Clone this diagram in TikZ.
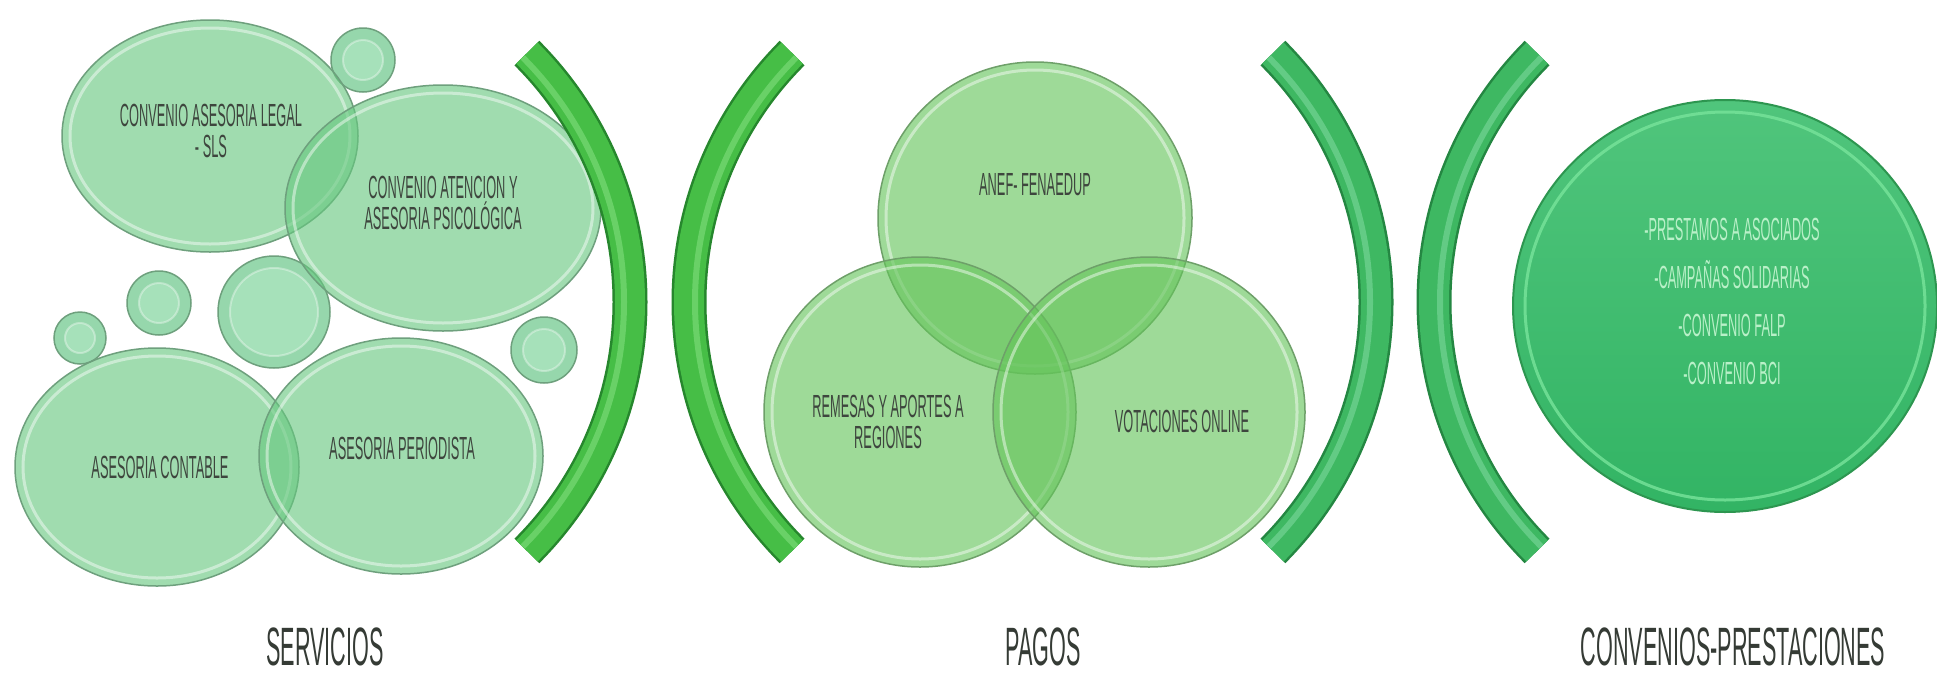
\documentclass[tikz,border=0pt]{standalone}
\usepackage{fontspec}
\newfontfamily\cond{Liberation Sans}[FakeStretch=0.4]
\definecolor{mint}{RGB}{102,200,127}
\definecolor{mintedge}{RGB}{110,160,125}
\definecolor{venn}{RGB}{100,196,90}
\definecolor{vennedge}{RGB}{110,160,105}
\definecolor{bub}{RGB}{150,215,172}
\definecolor{bubl}{RGB}{178,232,196}
\definecolor{arcA}{RGB}{70,190,70}
\definecolor{arcAd}{RGB}{38,135,45}
\definecolor{arcAl}{RGB}{120,218,118}
\definecolor{arcB}{RGB}{62,184,98}
\definecolor{arcBd}{RGB}{36,135,66}
\definecolor{arcBl}{RGB}{115,212,148}
\definecolor{bigtop}{RGB}{80,197,124}
\definecolor{bigbot}{RGB}{50,180,100}
\definecolor{bigedge}{RGB}{45,150,80}
\definecolor{bigrim}{RGB}{120,228,155}
\definecolor{bigtext}{RGB}{185,240,200}
\definecolor{txt}{RGB}{62,70,62}
\newcommand\glassell[7]{% x, y, rx, ry, inner rx, inner ry, colour
  \fill[#7, fill opacity=0.62] (#1,#2) ellipse [x radius=#3, y radius=#4];
  \draw[white, opacity=0.45, line width=3] (#1,#2) ellipse [x radius=#5, y radius=#6];
  \draw[#7edge, line width=1.5] (#1,#2) ellipse [x radius=#3, y radius=#4];
}
\newcommand\smallbub[4]{% x, y, r, inner r
  \fill[bub] (#1,#2) circle [radius=#3];
  \fill[bubl, opacity=0.6] (#1,#2) circle [radius=#4];
  \draw[white, opacity=0.35, line width=2] (#1,#2) circle [radius=#4];
  \draw[mintedge, line width=1.5] (#1,#2) circle [radius=#3];
}
\newcommand\greenarc[6]{% cx, cy, start, end, colour, stripe radius
  \draw[#5d, line width=35] (#1,#2) ++(#3:352) arc [start angle=#3, end angle=#4, radius=352];
  \draw[#5, line width=30] (#1,#2) ++(#3:352) arc [start angle=#3, end angle=#4, radius=352];
  \draw[#5l, line width=6, opacity=0.7] (#1,#2) ++(#3:#6) arc [start angle=#3, end angle=#4, radius=#6];
}
\begin{document}
\begin{tikzpicture}[x=1pt,y=-1pt,
  lbl/.style={font=\cond\fontsize{32}{31}\selectfont, text=txt, align=center, inner sep=0pt},
  biglbl/.style={font=\cond\fontsize{32}{48}\selectfont, text=bigtext, align=center, inner sep=0pt},
  cat/.style={font=\cond\fontsize{54}{54}\selectfont, text=txt!85!black, inner sep=0pt}]
\fill[white] (0,0) rectangle (1937,675);
\useasboundingbox (0,0) rectangle (1937,675);

% small bubbles
\smallbub{363}{60}{32}{20}
\smallbub{274}{312}{56}{44}
\smallbub{159}{303}{32}{20}
\smallbub{80}{338}{26}{15}
\smallbub{544}{350}{33}{21}

% servicios ellipses
\glassell{210}{136}{148}{116}{140}{108}{mint}
\glassell{443}{208}{158}{123}{150}{115}{mint}
\glassell{157}{467}{142}{119}{134}{111}{mint}
\glassell{401}{456}{142}{118}{134}{110}{mint}

% brackets
\greenarc{278}{302}{-45}{45}{arcA}{346}
\greenarc{1041}{302}{225}{135}{arcA}{346}
\greenarc{1024}{302}{-45}{45}{arcB}{346}
\greenarc{1786}{302}{225}{135}{arcB}{346}

% venn
\glassell{1035}{218}{157}{156}{149}{148}{venn}
\glassell{920}{412}{156}{155}{148}{147}{venn}
\glassell{1149}{412}{156}{155}{148}{147}{venn}

% big circle
\shade[top color=bigtop, bottom color=bigbot] (1725,306) ellipse [x radius=212, y radius=206];
\draw[bigrim, line width=3, opacity=0.8] (1725,306) ellipse [x radius=200, y radius=194];
\draw[bigedge, line width=2] (1725,306) ellipse [x radius=212, y radius=206];

% texts
\node[lbl] (t1) at (211,131) {CONVENIO ASESORIA LEGAL\\- SLS};
\node[lbl] (t2) at (443,203) {CONVENIO ATENCION Y\\ASESORIA PSICOLÓGICA};
\node[lbl] (t3) at (160,467) {ASESORIA CONTABLE};
\node[lbl] (t4) at (402,448) {ASESORIA PERIODISTA};
\node[lbl] (t5) at (1035,185) {ANEF- FENAEDUP};
\node[lbl] (t6) at (888,422) {REMESAS Y APORTES A\\REGIONES};
\node[lbl] (t7) at (1182,421) {VOTACIONES ONLINE};
\node[biglbl] (t8) at (1732,301) {-PRESTAMOS A ASOCIADOS\\-CAMPAÑAS SOLIDARIAS\\-CONVENIO FALP\\-CONVENIO BCI};
\node[cat] (c1) at (325,647) {SERVICIOS};
\node[cat] (c2) at (1043,647) {PAGOS};
\node[cat] (c3) at (1733,647) {CONVENIOS-PRESTACIONES};
\end{tikzpicture}
\end{document}
